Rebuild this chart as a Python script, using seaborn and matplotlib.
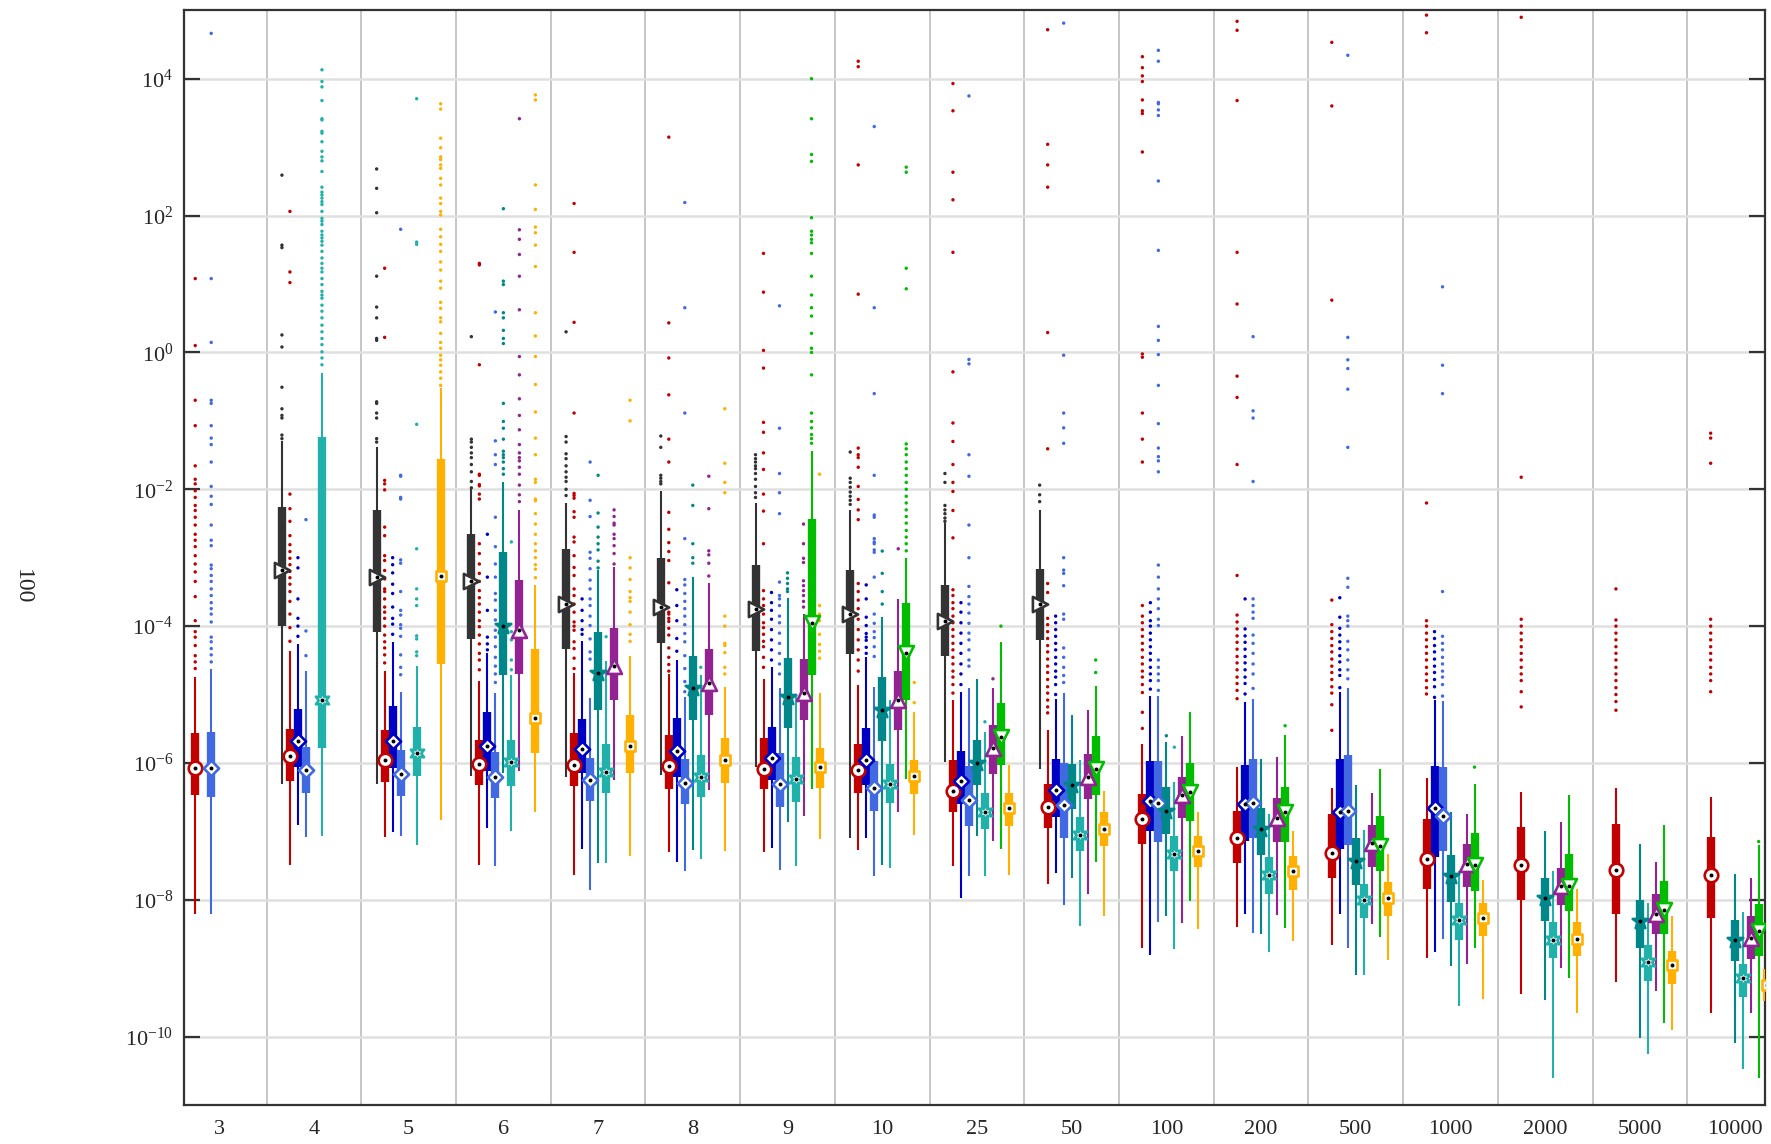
import numpy as np
import pandas as pd
import matplotlib
matplotlib.use("Agg")
import matplotlib.pyplot as plt
from matplotlib.ticker import FixedLocator, FuncFormatter, NullLocator
import seaborn as sns

N = None
groups = ["3", "4", "5", "6", "7", "8", "9", "10", "25", "50",
          "100", "200", "500", "1000", "2000", "5000", "10000"]

# ---------------- per-series box statistics (whisker low, q1, median, q3, whisker high) ----------------
black_lo  = [N, 5.0e-7, 5.0e-7, 6.5e-7, 6.2e-7, 6.6e-7, 8.7e-7, 8.1e-8, 1.05e-6, 8.1e-7, N, N, N, N, N, N, N]
black_q1  = [N, 1.0e-4, 8.1e-5, 6.5e-5, 4.6e-5, 5.6e-5, 4.3e-5, 3.9e-5, 3.7e-5, 6.3e-5, N, N, N, N, N, N, N]
black_med = [N, 6.6e-4, 5.2e-4, 4.5e-4, 2.1e-4, 1.9e-4, 1.8e-4, 1.5e-4, 1.2e-4, 2.1e-4, N, N, N, N, N, N, N]
black_q3  = [N, 5.5e-3, 5.0e-3, 2.2e-3, 1.35e-3, 1.0e-3, 7.8e-4, 6.6e-4, 4.0e-4, 6.9e-4, N, N, N, N, N, N, N]
black_hi  = [N, 5.0e-2, 4.2e-2, 1.0e-2, 6.3e-3, 9.3e-3, 6.3e-3, 5.0e-3, 3.2e-3, 5.0e-3, N, N, N, N, N, N, N]

red_lo  = [6.3e-9, 3.2e-8, 8.3e-8, 3.2e-8, 2.3e-8, 5.0e-8, 5.0e-8, 5.4e-8, 3.1e-8, 1.7e-8, 1.95e-9, 4.0e-9, 2.2e-9, 1.4e-9, 4.2e-10, 6.3e-10, 2.2e-10]
red_q1  = [3.4e-7, 5.4e-7, 5.2e-7, 4.7e-7, 4.6e-7, 4.1e-7, 4.1e-7, 3.7e-7, 1.95e-7, 1.12e-7, 6.5e-8, 3.5e-8, 2.1e-8, 1.45e-8, 1.0e-8, 6.2e-9, 5.5e-9]
red_med = [8.5e-7, 1.26e-6, 1.12e-6, 9.8e-7, 9.5e-7, 9.1e-7, 8.1e-7, 7.9e-7, 3.9e-7, 2.3e-7, 1.5e-7, 7.9e-8, 4.9e-8, 4.0e-8, 3.2e-8, 2.75e-8, 2.3e-8]
red_q3  = [2.7e-6, 3.1e-6, 3.0e-6, 2.2e-6, 2.7e-6, 2.6e-6, 2.3e-6, 1.9e-6, 1.12e-6, 5.0e-7, 3.5e-7, 2.0e-7, 1.8e-7, 1.5e-7, 1.15e-7, 1.3e-7, 8.3e-8]
red_hi  = [1.8e-5, 4.3e-5, 2.2e-5, 1.6e-5, 2.1e-5, 2.0e-5, 1.7e-5, 1.4e-5, 8.3e-6, 3.0e-6, 1.9e-6, 8.7e-7, 4.3e-7, 6.0e-7, 3.8e-7, 4.3e-7, 3.2e-7]

blue_lo  = [N, 1.23e-7, 9.8e-8, 1.12e-7, 5.6e-8, 3.6e-8, 5.8e-8, 7.9e-8, 1.07e-8, 2.5e-8, 1.55e-9, 6.3e-9, 6.2e-9, 1.7e-9, N, N, N]
blue_q1  = [N, 8.7e-7, 8.5e-7, 7.6e-7, 7.1e-7, 6.2e-7, 5.6e-7, 4.8e-7, 2.5e-7, 1.6e-7, 1.02e-7, 7.2e-8, 5.6e-8, 4.2e-8, N, N, N]
blue_med = [N, 2.1e-6, 2.1e-6, 1.8e-6, 1.6e-6, 1.5e-6, 1.2e-6, 1.1e-6, 5.4e-7, 4.0e-7, 2.8e-7, 2.5e-7, 1.9e-7, 2.2e-7, N, N, N]
blue_q3  = [N, 6.2e-6, 6.8e-6, 5.6e-6, 4.4e-6, 4.6e-6, 3.4e-6, 3.2e-6, 1.5e-6, 1.15e-6, 1.07e-6, 9.3e-7, 1.15e-6, 9.1e-7, N, N, N]
blue_hi  = [N, 5.4e-5, 5.8e-5, 4.0e-5, 6.0e-5, 3.2e-5, 2.5e-5, 3.5e-5, 1.1e-5, 8.7e-6, 9.5e-6, 7.9e-6, 1.1e-5, 8.3e-6, N, N, N]

royal_lo  = [6.3e-9, 8.3e-8, 8.7e-8, 3.1e-8, 1.4e-8, 2.6e-8, 2.7e-8, 2.2e-8, 2.2e-8, 8.3e-9, 4.7e-9, 3.3e-9, 2.0e-9, 2.7e-9, N, N, N]
royal_q1  = [3.2e-7, 3.6e-7, 3.3e-7, 3.1e-7, 2.8e-7, 2.5e-7, 2.3e-7, 2.0e-7, 1.2e-7, 7.9e-8, 6.9e-8, 8.1e-8, 6.3e-8, 5.2e-8, N, N, N]
royal_med = [8.5e-7, 7.8e-7, 6.9e-7, 6.3e-7, 5.6e-7, 5.1e-7, 4.9e-7, 4.3e-7, 2.9e-7, 2.4e-7, 2.6e-7, 2.6e-7, 2.0e-7, 1.7e-7, N, N, N]
royal_q3  = [2.8e-6, 1.7e-6, 1.55e-6, 1.45e-6, 1.2e-6, 1.15e-6, 1.4e-6, 1.07e-6, 8.9e-7, 1.0e-6, 1.07e-6, 1.15e-6, 1.3e-6, 8.7e-7, N, N, N]
royal_hi  = [2.4e-5, 2.2e-5, 1.1e-5, 1.05e-5, 8.9e-6, 9.3e-6, 1.26e-5, 1.3e-5, 1.26e-5, 1.07e-5, 9.5e-6, 8.5e-6, 1.23e-5, 8.1e-6, N, N, N]

teal_lo  = [N, N, N, 7.1e-7, 3.5e-8, 5.4e-8, 1.35e-7, 3.2e-8, 8.5e-8, 2.1e-8, 5.8e-9, 3.2e-9, 7.9e-10, 1.07e-9, 3.4e-10, 9.5e-11, 8.1e-11]
teal_q1  = [N, N, N, 1.95e-5, 6.0e-6, 4.3e-6, 3.2e-6, 2.1e-6, 4.8e-7, 2.1e-7, 9.1e-8, 4.5e-8, 1.66e-8, 9.3e-9, 4.9e-9, 2.0e-9, 1.26e-9]
teal_med = [N, N, N, 1.0e-4, 2.1e-5, 1.23e-5, 9.3e-6, 5.9e-6, 1.0e-6, 4.7e-7, 2.0e-7, 1.07e-7, 3.7e-8, 2.2e-8, 1.05e-8, 4.9e-9, 2.6e-9]
teal_q3  = [N, N, N, 1.2e-3, 8.1e-5, 3.7e-5, 3.4e-5, 1.8e-5, 2.2e-6, 9.8e-7, 4.4e-7, 2.2e-7, 7.9e-8, 4.5e-8, 2.1e-8, 9.8e-9, 5.1e-9]
teal_hi  = [N, N, N, 1.26e-2, 6.6e-4, 5.2e-4, 2.6e-4, 1.35e-4, 1.7e-5, 5.1e-6, 2.0e-6, 1.15e-6, 4.7e-7, 1.95e-7, 1.02e-7, 6.6e-8, 2.4e-8]

sea_lo  = [N, 8.7e-8, 6.3e-8, 1.0e-7, 3.5e-8, 4.0e-8, 3.1e-8, 2.9e-8, 2.2e-8, 4.2e-9, 1.9e-9, 1.7e-9, 7.9e-10, 2.8e-10, 2.5e-11, 5.5e-11, 3.4e-11]
sea_q1  = [N, 1.66e-6, 6.5e-7, 4.6e-7, 3.6e-7, 3.2e-7, 2.7e-7, 2.6e-7, 1.07e-7, 5.1e-8, 2.6e-8, 1.23e-8, 5.4e-9, 2.6e-9, 1.4e-9, 6.5e-10, 3.8e-10]
sea_med = [N, 8.3e-6, 1.4e-6, 1.05e-6, 7.4e-7, 6.3e-7, 5.9e-7, 5.0e-7, 1.9e-7, 8.9e-8, 4.7e-8, 2.3e-8, 1.0e-8, 5.0e-9, 2.6e-9, 1.23e-9, 7.2e-10]
sea_q3  = [N, 5.8e-2, 3.4e-6, 2.2e-6, 1.9e-6, 1.3e-6, 1.23e-6, 9.8e-7, 3.6e-7, 1.6e-7, 8.7e-8, 4.2e-8, 1.7e-8, 9.1e-9, 4.7e-9, 2.2e-9, 1.15e-9]
sea_hi  = [N, 0.5, 2.6e-5, 1.95e-5, 3.1e-5, 1.95e-5, 9.5e-6, 8.3e-6, 2.8e-6, 1.1e-6, 5.2e-7, 1.8e-7, 1.05e-7, 2.6e-8, 2.6e-8, 9.1e-9, 6.6e-9]

purple_lo  = [N, N, N, 7.6e-7, 5.6e-7, 4.0e-7, 1.66e-7, 1.95e-7, 7.2e-8, 1.2e-8, 4.6e-9, 6.0e-9, 4.5e-9, 1.15e-9, 1.02e-9, 4.7e-10, 2.2e-10]
purple_q1  = [N, N, N, 2.0e-5, 8.3e-6, 5.0e-6, 4.2e-6, 3.0e-6, 6.8e-7, 3.0e-7, 1.55e-7, 7.1e-8, 3.0e-8, 1.55e-8, 8.3e-9, 3.2e-9, 1.35e-9]
purple_med = [N, N, N, 8.9e-5, 2.6e-5, 1.5e-5, 1.07e-5, 8.3e-6, 1.66e-6, 6.3e-7, 3.4e-7, 1.55e-7, 6.8e-8, 3.3e-8, 1.6e-8, 6.3e-9, 2.8e-9]
purple_q3  = [N, N, N, 4.7e-4, 9.3e-5, 4.6e-5, 3.3e-5, 2.2e-5, 3.6e-6, 1.35e-6, 6.3e-7, 3.1e-7, 1.26e-7, 6.6e-8, 2.9e-8, 1.23e-8, 5.9e-9]
purple_hi  = [N, N, N, 5.0e-3, 7.2e-4, 4.2e-4, 1.5e-4, 2.5e-4, 1.26e-5, 5.9e-6, 2.5e-6, 1.23e-6, 3.7e-7, 1.8e-7, 1.35e-7, 3.6e-8, 2.1e-8]

green_lo  = [N, N, N, N, N, N, 4.2e-7, 5.9e-7, 5.5e-8, 3.6e-8, 9.5e-9, 3.9e-9, 2.9e-9, 2.0e-9, 7.2e-10, 1.6e-10, 2.5e-11]
green_q1  = [N, N, N, N, N, N, 1.95e-5, 8.3e-6, 9.5e-7, 3.4e-7, 1.4e-7, 6.9e-8, 2.6e-8, 1.35e-8, 6.9e-9, 3.2e-9, 1.5e-9]
green_med = [N, N, N, N, N, N, 1.12e-4, 4.1e-5, 2.4e-6, 8.1e-7, 3.8e-7, 1.9e-7, 6.2e-8, 3.2e-8, 1.6e-8, 7.2e-9, 3.5e-9]
green_q3  = [N, N, N, N, N, N, 3.7e-3, 2.2e-4, 7.4e-6, 2.5e-6, 1.0e-6, 4.5e-7, 1.7e-7, 9.5e-8, 4.6e-8, 1.9e-8, 8.7e-9]
green_hi  = [N, N, N, N, N, N, 3.6e-2, 1.0e-3, 5.8e-5, 1.35e-5, 5.5e-6, 2.6e-6, 8.3e-7, 4.9e-7, 3.4e-7, 1.23e-7, 6.3e-8]

orange_lo  = [N, N, 1.45e-7, 1.9e-7, 4.4e-8, 5.2e-8, 7.8e-8, 8.9e-8, 2.3e-8, 5.8e-9, 3.8e-9, 2.5e-9, 1.3e-9, 3.5e-10, 2.2e-10, 1.26e-10, 5.8e-11]
orange_q1  = [N, N, 2.8e-5, 1.4e-6, 7.2e-7, 5.1e-7, 4.3e-7, 3.5e-7, 1.2e-7, 6.2e-8, 3.0e-8, 1.4e-8, 5.9e-9, 3.0e-9, 1.5e-9, 5.8e-10, 3.3e-10]
orange_med = [N, N, 5.4e-4, 4.6e-6, 1.8e-6, 1.12e-6, 8.7e-7, 6.5e-7, 2.2e-7, 1.07e-7, 5.2e-8, 2.6e-8, 1.07e-8, 5.5e-9, 2.7e-9, 1.1e-9, 5.6e-10]
orange_q3  = [N, N, 2.8e-2, 4.6e-5, 5.0e-6, 2.3e-6, 1.66e-6, 1.12e-6, 3.7e-7, 1.9e-7, 8.7e-8, 4.4e-8, 1.8e-8, 8.9e-9, 4.7e-9, 1.8e-9, 9.8e-10]
orange_hi  = [N, N, 0.3, 4.0e-4, 3.7e-5, 1.3e-5, 1.07e-5, 5.5e-6, 9.5e-7, 3.9e-7, 1.95e-7, 1.0e-7, 4.6e-8, 1.95e-8, 1.45e-8, 5.9e-9, 1.8e-9]

# ---------------- outliers beyond the whiskers ----------------
black_out = {
    "4": [3.9e2, 37, 34, 1.8, 1.2, 0.31, 0.15, 0.12, 0.11, 6.2e-2, 5.5e-2],
    "5": [4.8e2, 2.5e2, 1.1e2, 13, 4.6, 3.2, 1.6, 1.5, 0.19, 0.18, 0.13, 0.11, 5.5e-2, 4.9e-2],
    "6": [1.7, 5.4e-2, 4.9e-2, 4.1e-2, 3.4e-2, 2.9e-2, 2.3e-2, 1.8e-2, 1.3e-2, 1.05e-2],
    "7": [2.0, 5.9e-2, 4.9e-2, 3.3e-2, 2.8e-2, 2.2e-2, 1.8e-2, 1.5e-2, 1.3e-2, 1.0e-2, 8.1e-3],
    "8": [6.0e-2, 4.1e-2, 1.6e-2, 1.45e-2, 1.3e-2, 1.2e-2],
    "9": [3.2e-2, 2.8e-2, 2.5e-2, 2.2e-2, 2.0e-2, 1.7e-2, 1.4e-2, 1.1e-2, 8.9e-3, 7.6e-3],
    "10": [3.5e-2, 1.45e-2, 1.26e-2, 1.07e-2, 9.1e-3, 7.9e-3, 6.9e-3, 6.0e-3],
    "25": [1.7e-2, 1.26e-2, 5.8e-3, 5.0e-3, 4.4e-3, 3.8e-3, 3.4e-3],
    "50": [1.15e-2, 8.3e-3, 6.6e-3],
}
red_out = {
    "3": [12, 1.26, 0.2, 8.5e-2, 2.2e-2, 1.4e-2, 1.2e-2, 9.5e-3, 7.6e-3, 5.8e-3, 4.9e-3, 3.9e-3, 3.0e-3, 2.2e-3,
          1.8e-3, 1.45e-3, 1.07e-3, 8.1e-4, 6.2e-4, 4.5e-4, 2.7e-4, 1.2e-4, 8.3e-5, 6.9e-5, 5.2e-5, 3.7e-5, 3.0e-5, 2.4e-5],
    "4": [1.15e2, 15, 10.5, 8.5e-3, 5.2e-3, 3.4e-3, 2.1e-3, 1.55e-3, 1.23e-3, 9.8e-4, 7.9e-4, 6.3e-4, 5.1e-4,
          4.1e-4, 3.2e-4, 2.3e-4, 1.5e-4, 9.5e-5, 6.0e-5],
    "5": [17, 1.66, 1.35e-2, 1.2e-2, 9.8e-3, 2.8e-3, 2.1e-3, 1.07e-3, 9.1e-4, 6.5e-4, 4.9e-4, 3.5e-4, 3.2e-4, 2.5e-4,
          1.9e-4, 1.6e-4, 1.3e-4, 1.0e-4, 7.4e-5, 5.9e-5, 4.8e-5, 3.8e-5, 2.9e-5],
    "6": [20, 19, 0.66, 1.66e-2, 1.6e-2, 1.17e-2, 1.12e-2, 8.5e-3, 7.2e-3, 1.6e-3, 1.15e-3, 8.1e-4, 5.9e-4, 4.5e-4,
          3.3e-4, 2.6e-4, 2.1e-4, 1.6e-4, 1.2e-4, 9.8e-5, 7.4e-5, 5.5e-5, 4.0e-5, 3.2e-5, 2.3e-5],
    "7": [1.5e2, 29, 2.75, 0.13, 8.7e-3, 8.1e-3, 7.4e-3, 4.7e-3, 3.9e-3, 2.0e-3, 1.7e-3, 1.07e-3, 7.2e-4, 5.5e-4,
          3.5e-4, 2.8e-4, 2.1e-4, 1.6e-4, 1.15e-4, 1.0e-4, 8.7e-5, 5.9e-5, 4.7e-5, 3.4e-5, 2.4e-5],
    "8": [1.4e3, 2.7, 0.83, 0.24, 5.4e-2, 2.5e-2, 4.6e-3, 2.6e-3, 1.66e-3, 1.23e-3, 9.1e-4, 4.3e-4, 1.6e-4, 1.5e-4,
          1.3e-4, 1.17e-4, 9.3e-5, 7.4e-5, 4.8e-5, 3.5e-5, 2.75e-5, 2.2e-5],
    "9": [28, 7.6, 1.07, 0.59, 9.5e-2, 6.8e-2, 3.4e-2, 1.95e-2, 8.5e-3, 4.8e-3, 1.6e-3, 3.3e-4, 2.5e-4, 2.0e-4,
          1.5e-4, 1.12e-4, 9.5e-5, 7.6e-5, 6.0e-5, 5.0e-5, 3.5e-5, 2.5e-5],
    "10": [1.8e4, 1.5e4, 5.5e2, 7.1, 4.0e-2, 3.2e-2, 2.9e-2, 2.1e-2, 1.1e-2, 7.1e-3, 5.0e-3, 3.6e-3, 4.2e-4, 3.2e-4,
           2.4e-4, 1.8e-4, 1.26e-4, 8.9e-5, 6.3e-5, 4.5e-5, 3.2e-5, 2.2e-5],
    "25": [8.5e3, 3.4e3, 4.3e2, 1.7e2, 29, 0.52, 9.3e-2, 5.0e-2, 2.3e-2, 1.26e-2, 9.3e-3, 4.9e-3, 1.95e-3, 3.4e-4,
           2.8e-4, 2.2e-4, 1.8e-4, 1.4e-4, 1.12e-4, 8.9e-5, 7.1e-5, 5.6e-5, 4.5e-5, 3.5e-5, 2.8e-5, 2.2e-5, 1.8e-5,
           1.4e-5, 1.05e-5],
    "50": [5.2e4, 1.1e3, 5.5e2, 2.6e2, 1.95, 3.9e-2, 4.2e-4, 3.1e-4, 1.3e-4, 1.05e-4, 8.3e-5, 6.6e-5, 5.2e-5, 4.2e-5,
           3.3e-5, 2.6e-5, 2.1e-5, 1.66e-5, 1.3e-5, 1.05e-5, 8.3e-6, 6.6e-6, 5.4e-6],
    "100": [2.1e4, 1.45e4, 1.1e4, 9.1e3, 4.9e3, 3.4e3, 3.1e3, 8.5e2, 0.95, 0.85, 0.13, 5.4e-2, 2.5e-2, 2.0e-4,
            1.4e-4, 1.12e-4, 8.9e-5, 7.1e-5, 5.6e-5, 4.5e-5, 3.5e-5, 2.8e-5, 2.2e-5, 1.8e-5, 1.4e-5, 1.07e-5,
            5.5e-6, 3.2e-6],
    "200": [6.9e4, 5.1e4, 4.8e3, 29, 5.1, 0.45, 0.22, 2.3e-2, 5.5e-4, 1.45e-4, 1.15e-4, 9.1e-5, 7.2e-5, 5.8e-5,
            4.6e-5, 3.6e-5, 2.9e-5, 2.3e-5, 1.8e-5, 1.45e-5, 1.15e-5, 8.7e-6],
    "500": [3.4e4, 4.0e3, 5.8, 2.4e-4, 1.05e-4, 8.3e-5, 6.6e-5, 5.2e-5, 4.2e-5, 3.3e-5, 2.6e-5, 2.1e-5, 1.66e-5,
            1.3e-5, 1.05e-5, 7.1e-6, 3.0e-6],
    "1000": [8.5e4, 4.7e4, 6.3e-3, 1.2e-4, 1.0e-4, 7.9e-5, 6.3e-5, 5.0e-5, 4.0e-5, 3.2e-5, 2.5e-5, 2.0e-5, 1.6e-5,
             1.26e-5, 1.02e-5],
    "2000": [7.9e4, 1.5e-2, 1.26e-4, 1.0e-4, 7.9e-5, 6.3e-5, 5.0e-5, 4.0e-5, 3.2e-5, 2.5e-5, 2.0e-5, 1.6e-5,
             1.1e-5, 6.6e-6],
    "5000": [3.5e-4, 1.23e-4, 1.0e-4, 7.9e-5, 6.3e-5, 5.0e-5, 4.0e-5, 3.2e-5, 2.5e-5, 2.0e-5, 1.6e-5, 1.26e-5,
             1.0e-5, 7.9e-6, 5.9e-6],
    "10000": [6.6e-2, 5.6e-2, 2.4e-2, 1.26e-4, 1.0e-4, 7.9e-5, 6.3e-5, 5.0e-5, 4.0e-5, 3.2e-5, 2.5e-5, 2.0e-5,
              1.6e-5, 1.1e-5],
}
blue_out = {
    "4": [1.0e-3, 7.1e-4, 2.5e-4, 1.3e-4, 1.0e-4, 7.1e-5],
    "5": [1.0e-3, 7.9e-4, 6.0e-4, 4.1e-4, 3.0e-4, 1.9e-4, 1.3e-4, 1.07e-4, 7.6e-5],
    "6": [2.2e-3, 5.2e-4, 1.7e-4, 6.9e-5, 5.5e-5, 4.5e-5],
    "7": [2.5e-4, 1.7e-4, 1.2e-4, 8.9e-5, 7.6e-5],
    "8": [3.4e-4, 2.0e-4, 1.2e-4, 6.6e-5, 4.3e-5],
    "9": [3.1e-4, 2.2e-4, 1.7e-4, 1.26e-4, 8.9e-5, 6.3e-5, 4.5e-5, 3.2e-5],
    "10": [4.0e-4, 2.5e-4, 1.35e-4, 1.02e-4, 7.8e-5, 6.9e-5, 6.2e-5, 4.9e-5, 4.0e-5],
    "25": [2.2e-4, 1.6e-4, 1.12e-4, 7.9e-5, 5.6e-5, 4.0e-5, 2.8e-5, 2.0e-5, 1.4e-5],
    "50": [1.4e-4, 1.12e-4, 8.9e-5, 7.1e-5, 5.6e-5, 4.5e-5, 3.5e-5, 2.8e-5, 2.2e-5, 1.8e-5, 1.4e-5, 1.0e-5],
    "100": [2.2e-4, 1.6e-4, 1.2e-4, 1.0e-4, 7.9e-5, 6.3e-5, 5.0e-5, 4.0e-5, 3.2e-5, 2.5e-5, 2.0e-5, 1.6e-5, 1.2e-5],
    "200": [2.5e-4, 9.1e-5, 7.2e-5, 5.8e-5, 4.6e-5, 3.6e-5, 2.9e-5, 2.3e-5, 1.8e-5, 1.45e-5, 1.02e-5],
    "500": [2.6e-4, 1.35e-4, 9.3e-5, 7.4e-5, 5.9e-5, 4.7e-5, 3.7e-5, 3.0e-5, 2.3e-5, 1.9e-5, 1.26e-5],
    "1000": [8.3e-5, 6.6e-5, 5.2e-5, 4.2e-5, 3.3e-5, 2.6e-5, 2.1e-5, 1.66e-5, 1.3e-5, 9.1e-6],
}
royal_out = {
    "3": [4.6e4, 12, 1.4, 0.2, 0.18, 8.5e-2, 5.6e-2, 4.5e-2, 2.5e-2, 1.1e-2, 7.9e-3, 6.0e-3, 3.0e-3, 1.8e-3, 1.5e-3,
          7.8e-4, 6.9e-4, 5.5e-4, 4.5e-4, 3.5e-4, 2.8e-4, 2.2e-4, 1.8e-4, 1.5e-4, 1.15e-4, 6.9e-5, 5.9e-5, 4.7e-5,
          3.8e-5, 3.0e-5],
    "4": [3.6e-3, 8.5e-5, 3.7e-5],
    "5": [63, 1.6e-2, 1.55e-2, 7.6e-3, 7.2e-3, 9.3e-4, 8.3e-4, 3.2e-4, 1.7e-4, 1.45e-4, 1.05e-4, 9.3e-5, 7.1e-5,
          3.8e-5, 2.5e-5, 1.95e-5],
    "6": [3.9, 5.1e-2, 3.2e-2, 2.3e-2, 3.9e-3, 1.45e-3, 8.1e-4, 5.2e-4, 3.0e-4, 2.4e-4, 1.7e-4, 1.23e-4, 8.7e-5,
          6.9e-5, 5.0e-5, 3.5e-5, 2.6e-5, 2.0e-5, 1.5e-5],
    "7": [2.5e-2, 6.9e-3, 4.0e-3, 1.2e-3, 9.8e-4, 6.9e-4, 4.7e-4, 3.5e-4, 2.5e-4, 2.0e-4, 1.4e-4, 1.02e-4, 6.5e-5,
          4.2e-5, 3.3e-5],
    "8": [1.55e2, 4.5, 0.13, 1.9e-3, 4.8e-4, 4.0e-4, 3.0e-4, 2.3e-4, 1.8e-4, 1.4e-4, 1.05e-4, 7.8e-5, 5.9e-5,
          3.7e-5, 2.4e-5, 1.55e-5, 1.1e-5],
    "9": [4.8, 7.8e-2, 1.7e-2, 8.9e-3, 4.4e-3, 4.4e-4, 2.8e-4, 2.5e-4, 2.0e-4, 1.4e-4, 1.12e-4, 7.9e-5, 5.6e-5,
          4.0e-5, 2.8e-5, 2.0e-5],
    "10": [2.0e3, 4.5, 0.25, 1.6e-2, 4.2e-3, 3.9e-3, 1.9e-3, 1.7e-3, 1.6e-3, 1.3e-3, 1.2e-3, 5.2e-4, 1.5e-4,
           1.1e-4, 8.3e-5, 6.8e-5, 5.0e-5, 3.6e-5],
    "25": [5.6e3, 0.79, 0.68, 3.2e-2, 1.55e-2, 3.0e-3, 1.0e-3, 3.8e-4, 2.7e-4, 2.1e-4, 1.55e-4, 1.1e-4, 7.9e-5,
           6.3e-5, 4.5e-5, 3.2e-5, 2.6e-5],
    "50": [6.5e4, 0.91, 0.13, 7.9e-2, 4.7e-2, 1.0e-3, 6.6e-4, 5.9e-4, 3.9e-4, 1.5e-4, 1.26e-4, 4.8e-5, 3.5e-5,
           2.5e-5, 1.9e-5, 1.5e-5],
    "100": [2.6e4, 1.8e4, 4.5e3, 4.3e3, 3.5e3, 2.9e3, 3.2e2, 31, 2.4, 1.5, 0.93, 0.33, 9.1e-2, 4.0e-2, 3.0e-2,
            2.6e-2, 1.8e-2, 7.8e-4, 5.2e-4, 3.5e-4, 2.5e-4, 1.8e-4, 1.26e-4, 1.02e-4, 3.2e-5, 2.5e-5, 2.0e-5,
            1.6e-5, 1.15e-5],
    "200": [1.7, 0.14, 0.11, 1.3e-2, 2.5e-4, 2.0e-4, 1.6e-4, 1.3e-4, 7.4e-5, 5.6e-5, 4.0e-5, 2.8e-5, 2.0e-5, 1.23e-5],
    "500": [2.2e4, 1.66, 0.78, 0.58, 0.29, 4.1e-2, 5.0e-4, 3.7e-4, 1.4e-4, 1.2e-4, 1.0e-4, 6.0e-5, 4.5e-5, 3.2e-5,
            2.3e-5, 1.7e-5],
    "1000": [9.1, 0.65, 0.25, 3.2e-4, 7.1e-5, 5.6e-5, 4.5e-5, 3.5e-5, 2.8e-5, 2.2e-5, 1.8e-5, 1.4e-5, 9.5e-6],
}
teal_out = {
    "6": [1.26e2, 11, 9.8, 3.8, 3.2, 2.1, 1.6, 1.35, 0.18, 9.8e-2, 7.8e-2, 5.4e-2, 3.6e-2, 3.2e-2, 2.9e-2, 2.5e-2,
          2.0e-2, 1.66e-2],
    "7": [1.6e-2, 4.5e-3, 2.8e-3, 2.0e-3, 1.6e-3, 1.3e-3, 8.9e-4, 7.1e-4],
    "8": [1.15e-2, 5.8e-3, 1.6e-3, 1.0e-3, 8.3e-4],
    "9": [6.0e-4, 5.0e-4, 4.2e-4, 3.5e-4, 3.2e-4],
    "10": [1.25e-3, 5.9e-4, 3.2e-4, 2.1e-4],
    "100": [2.5e-6],
}
sea_out = {
    "4": [1.35e4, 9.1e3, 7.6e3, 4.8e3, 2.6e3, 2.5e3, 1.7e3, 1.6e3, 1.2e3, 8.7e2, 7.2e2, 6.3e2, 4.4e2, 2.6e2, 2.2e2,
          2.0e2, 1.8e2, 1.6e2, 1.45e2, 1.15e2, 91, 83, 74, 59, 52, 47, 42, 37, 30, 24, 20, 17, 15, 12, 9.8, 7.8,
          6.9, 6.2, 4.9, 4.0, 3.2, 2.5, 2.0, 1.6, 1.3, 1.02, 0.83, 0.66],
    "5": [5.1e3, 41, 38, 8.9e-2, 1.35e-3, 3.5e-4, 2.5e-4, 2.0e-4, 7.2e-5, 6.5e-5, 4.2e-5, 3.7e-5],
    "6": [1.7e-3, 8.3e-5, 6.3e-5, 3.2e-5, 2.3e-5],
    "7": [7.0e-5],
    "8": [2.5e-5],
    "25": [4.0e-6],
    "100": [1.7e-6],
}
purple_out = {
    "6": [2.6e3, 62, 45, 27, 13, 4.2, 0.87, 0.47, 0.21, 0.12, 7.4e-2, 4.5e-2, 3.4e-2, 2.9e-2, 2.6e-2, 2.1e-2,
          1.66e-2, 1.15e-2, 8.3e-3, 6.6e-3],
    "7": [5.0e-3, 4.0e-3, 3.2e-3, 3.0e-3, 2.2e-3, 1.9e-3, 1.5e-3, 1.15e-3, 8.1e-4],
    "8": [1.55e-2, 5.2e-3, 1.26e-3, 1.1e-3, 8.3e-4, 5.4e-4],
    "9": [3.1e-3, 1.6e-3, 9.8e-4, 8.5e-4, 4.6e-4, 3.9e-4, 3.3e-4, 2.8e-4, 2.3e-4, 1.9e-4],
    "10": [1.35e-3],
    "25": [1.7e-5],
}
green_out = {
    "9": [1.0e4, 2.6e3, 7.8e2, 6.2e2, 93, 59, 52, 45, 40, 28, 13, 6.9, 4.5, 3.4, 1.9, 1.15, 1.0, 0.47, 0.13,
          9.8e-2, 7.9e-2, 6.3e-2, 5.5e-2, 4.7e-2],
    "10": [5.1e2, 4.3e2, 17, 8.5, 4.6e-2, 3.9e-2, 3.2e-2, 2.5e-2, 2.0e-2, 1.6e-2, 1.26e-2, 1.0e-2, 7.9e-3, 6.3e-3,
           5.0e-3, 4.0e-3, 3.2e-3, 2.5e-3, 2.0e-3, 1.6e-3, 1.26e-3],
    "25": [1.0e-4],
    "50": [3.2e-5, 2.1e-5],
    "200": [3.5e-6],
    "1000": [8.7e-7],
    "10000": [7.1e-8],
}
orange_out = {
    "5": [4.3e3, 3.6e3, 1.35e3, 9.8e2, 7.2e2, 6.6e2, 5.5e2, 4.9e2, 3.5e2, 2.8e2, 1.8e2, 1.5e2, 1.15e2, 1.02e2, 63,
          49, 38, 30, 21, 16, 11, 8.7, 5.4, 4.4, 3.2, 2.8, 1.9, 1.4, 1.15, 0.91, 0.78, 0.65, 0.52, 0.42, 0.33],
    "6": [5.8e3, 4.9e3, 2.8e2, 1.23e2, 68, 56, 37, 18, 3.8, 1.74, 0.87, 0.34, 0.135, 5.6e-2, 3.2e-2, 1.4e-2,
          1.26e-2, 7.2e-3, 6.8e-3, 4.4e-3, 3.1e-3, 2.2e-3, 1.6e-3, 1.26e-3, 1.0e-3, 7.9e-4, 6.8e-4, 5.1e-4],
    "7": [0.2, 0.1, 1.0e-3, 7.1e-4, 4.8e-4, 3.2e-4, 2.6e-4, 2.3e-4, 1.6e-4, 1.05e-4, 7.6e-5, 6.0e-5],
    "8": [0.15, 2.4e-2, 1.26e-2, 8.9e-3, 1.4e-4, 1.0e-4, 5.6e-5, 5.2e-5, 4.1e-5, 2.5e-5, 2.0e-5],
    "9": [1.66e-2, 2.0e-4, 1.5e-4, 1.2e-4, 7.6e-5, 5.4e-5, 4.3e-5, 3.4e-5],
    "10": [1.5e-5, 7.6e-6],
}

# ---------------- styling per series ----------------
SERIES = ["black", "red", "blue", "royal", "teal", "sea", "purple", "green", "orange"]
COLORS = {"black": "#333333", "red": "#c30000", "blue": "#0000c4", "royal": "#4169e1", "teal": "#00878a",
          "sea": "#20b2aa", "purple": "#932293", "green": "#00bd00", "orange": "#ffb000"}
MARKERS = {"black": ">", "red": "o", "blue": "D", "royal": "D", "teal": "*", "sea": (6, 1, 0),
           "purple": "^", "green": "v", "orange": "s"}
MSIZE = {"black": 120, "red": 95, "blue": 60, "royal": 60, "teal": 140, "sea": 120,
         "purple": 115, "green": 115, "orange": 62}
STATS = {
    "black": (black_lo, black_q1, black_med, black_q3, black_hi, black_out),
    "red": (red_lo, red_q1, red_med, red_q3, red_hi, red_out),
    "blue": (blue_lo, blue_q1, blue_med, blue_q3, blue_hi, blue_out),
    "royal": (royal_lo, royal_q1, royal_med, royal_q3, royal_hi, royal_out),
    "teal": (teal_lo, teal_q1, teal_med, teal_q3, teal_hi, teal_out),
    "sea": (sea_lo, sea_q1, sea_med, sea_q3, sea_hi, sea_out),
    "purple": (purple_lo, purple_q1, purple_med, purple_q3, purple_hi, purple_out),
    "green": (green_lo, green_q1, green_med, green_q3, green_hi, green_out),
    "orange": (orange_lo, orange_q1, orange_med, orange_q3, orange_hi, orange_out),
}
SLOT_STEP = 0.0845
OFFSET = {s: (k - 4) * SLOT_STEP for k, s in enumerate(SERIES)}

box_rows, out_rows = [], []
for s in SERIES:
    lo, q1, med, q3, hi, out = STATS[s]
    for i, g in enumerate(groups):
        if med[i] is None:
            continue
        x = i + OFFSET[s]
        box_rows.append(dict(series=s, group=g, x=x, lo=lo[i], q1=q1[i], med=med[i], q3=q3[i], hi=hi[i]))
        for v in out.get(g, []):
            out_rows.append(dict(series=s, group=g, x=x, value=v))
boxes = pd.DataFrame(box_rows)
outliers = pd.DataFrame(out_rows)

# ---------------- figure ----------------
sns.set_style("white")
plt.rcParams["font.family"] = ["Liberation Serif", "DejaVu Serif"]
plt.rcParams["mathtext.fontset"] = "custom"
plt.rcParams["mathtext.rm"] = "Liberation Serif"
plt.rcParams["mathtext.it"] = "Liberation Serif:italic"
plt.rcParams["mathtext.bf"] = "Liberation Serif:bold"

fig = plt.figure(figsize=(17.71, 11.44), dpi=100)
ax = fig.add_axes([0.104, 0.034, 0.8926, 0.957])
ax.set_yscale("log")

# outlier dots
sns.scatterplot(data=outliers, x="x", y="value", hue="series", palette=COLORS, s=6,
                linewidth=0, legend=False, ax=ax, zorder=2)

# whiskers, then thick boxes
for s in SERIES:
    b = boxes[boxes.series == s]
    ax.vlines(b.x, b.lo, b.hi, color=COLORS[s], lw=1.5, zorder=3)
for s in SERIES:
    b = boxes[boxes.series == s]
    lc = ax.vlines(b.x, b.q1, b.q3, color=COLORS[s], lw=6.0, zorder=4)
    lc.set_capstyle("butt")

# median markers with a black centre dot
for s in SERIES:
    b = boxes[boxes.series == s]
    face = COLORS[s] if s == "teal" else "white"
    sns.scatterplot(data=b, x="x", y="med", marker=MARKERS[s], s=MSIZE[s], color=face,
                    edgecolor=COLORS[s], linewidth=1.9, legend=False, ax=ax, zorder=6)
sns.scatterplot(data=boxes, x="x", y="med", color="black", s=8, linewidth=0,
                legend=False, ax=ax, zorder=7)

# axes, ticks and grid
ax.set_xlim(-0.37, 16.32)
ax.set_ylim(1e-11, 1e5)
ax.set_xlabel("")
ax.set_ylabel("")
ax.set_xticks(range(len(groups)))
ax.set_xticklabels(groups)
ax.set_xticks(np.arange(0.5, len(groups) - 1, 1.0), minor=True)
yticks = [1e-10, 1e-8, 1e-6, 1e-4, 1e-2, 1e0, 1e2, 1e4]
ax.yaxis.set_major_locator(FixedLocator(yticks))
ax.yaxis.set_minor_locator(NullLocator())
ax.yaxis.set_major_formatter(FuncFormatter(lambda v, p: f"$10^{{{int(round(np.log10(v)))}}}$"))

ax.grid(False)
ax.xaxis.grid(True, which="minor", color="#c6c6c6", lw=1.4)
ax.yaxis.grid(True, which="major", color="#e0e0e0", lw=1.8)
ax.set_axisbelow(True)

ax.tick_params(axis="y", which="major", direction="in", length=11.5, width=1.6, left=True, right=True,
               labelsize=16, pad=8, color="#333333")
ax.tick_params(axis="x", which="both", length=0, labelsize=16, pad=11)
for sp in ax.spines.values():
    sp.set_color("#333333")
    sp.set_linewidth(1.6)

fig.text(0.0125, 0.487, "100", rotation=270, ha="center", va="center", fontsize=17)

fig.savefig("out.png", dpi=100)
